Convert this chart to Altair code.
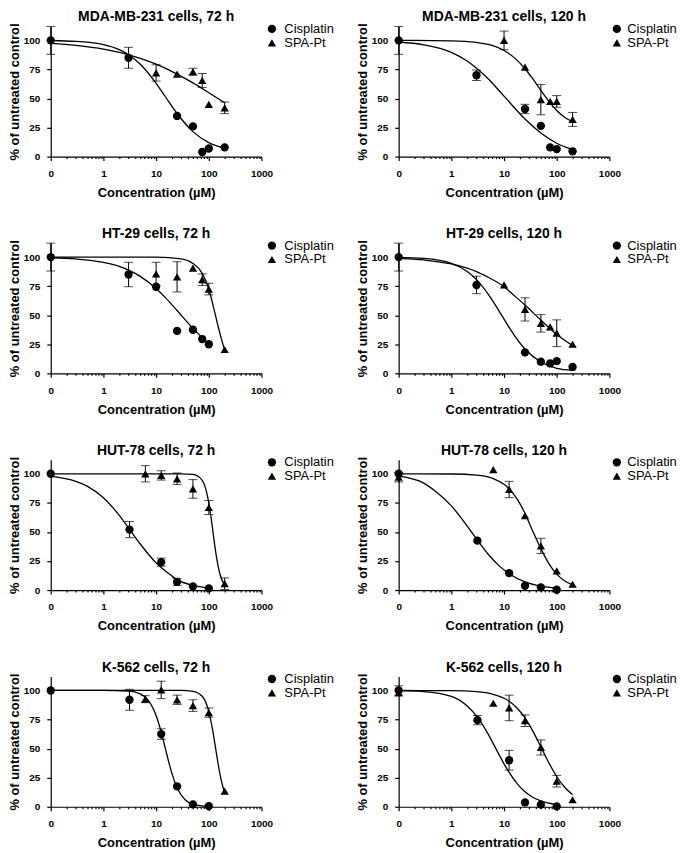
import altair as alt
import pandas as pd

FONT = "Liberation Sans"

PANEL_TITLES = [
    "MDA-MB-231 cells, 72 h", "MDA-MB-231 cells, 120 h",
    "HT-29 cells, 72 h", "HT-29 cells, 120 h",
    "HUT-78 cells, 72 h", "HUT-78 cells, 120 h",
    "K-562 cells, 72 h", "K-562 cells, 120 h",
]
DRUGS = ["Cisplatin", "SPA-Pt"]
SHAPES = ["circle", "triangle-up"]
X_MAJOR = [0.1, 1, 10, 100, 1000]
X_MINOR = [0.2, 0.3, 0.4, 0.5, 0.6, 0.7, 0.8, 0.9,
           2, 3, 4, 5, 6, 7, 8, 9,
           20, 30, 40, 50, 60, 70, 80, 90,
           200, 300, 400, 500, 600, 700, 800, 900]
Y_TICKS = [0, 25, 50, 75, 100]

# ---- measured points (x = concentration in uM, y = % of control, err = SD) ----
MDA72 = {
    "cis": {"x": [0, 3, 25, 50, 75, 100, 200], "y": [100, 85, 35, 26, 4, 7, 8], "err": [12, 9, 0, 0, 0, 0, 0]},
    "spa": {"x": [10, 25, 50, 75, 100, 200], "y": [72, 71, 73, 65.5, 45, 42], "err": [7, 0, 3, 6, 0, 5]},
    "cis_fit": {"x": [0.1, 0.3, 1, 2, 3, 5, 10, 15, 25, 50, 100, 200],
                "y": [99.9, 99.1, 96.4, 92.1, 87.7, 79.5, 63.1, 51.5, 37.1, 21.5, 12, 7.1]},
    "spa_fit": {"x": [0.1, 0.3, 1, 2, 3, 5, 10, 25, 50, 100, 200],
                "y": [97.5, 95.7, 92.5, 89.6, 87.6, 84.6, 79.5, 71, 63.4, 55, 46.4]},
}
MDA120 = {
    "cis": {"x": [0, 3, 25, 50, 75, 100, 200], "y": [100, 70, 41, 26.5, 8, 6.5, 4.6], "err": [12, 4.5, 4, 0, 0, 0, 0]},
    "spa": {"x": [10, 25, 50, 75, 100, 200], "y": [100, 77, 49, 47.5, 47.5, 32], "err": [8, 0, 13, 0, 5, 6]},
    "cis_fit": {"x": [0.1, 0.3, 1, 2, 3, 5, 10, 25, 50, 100, 200],
                "y": [98.6, 96.2, 89.7, 82.2, 76, 67, 52, 32.4, 20.4, 11.5, 6]},
    "spa_fit": {"x": [0.1, 1, 3, 5, 10, 15, 25, 35, 50, 70, 100, 150, 200],
                "y": [100, 99.6, 98.2, 96.5, 91.3, 85.8, 75.6, 67, 57, 48, 39.7, 33, 30]},
}
HT72 = {
    "cis": {"x": [0, 3, 10, 25, 50, 75, 100], "y": [100, 85, 74.5, 36.5, 37.5, 29.5, 25], "err": [12, 10.5, 0, 0, 0, 0, 0]},
    "spa": {"x": [10, 25, 50, 75, 100, 200], "y": [85.5, 83, 90.5, 80.5, 72.5, 20.5], "err": [10, 13, 0, 5, 5, 0]},
    "cis_fit": {"x": [0.1, 0.3, 1, 2, 3, 5, 10, 15, 25, 50, 100],
                "y": [99.4, 98.4, 95.5, 92, 88.8, 83.4, 72.9, 65.1, 54, 38.7, 25.3]},
    "spa_fit": {"x": [0.1, 1, 10, 30, 50, 75, 100, 125, 150, 175, 200],
                "y": [100, 100, 99.9, 98.5, 94.5, 86, 72.5, 55.5, 40.5, 29, 20]},
}
HT120 = {
    "cis": {"x": [0, 3, 25, 50, 75, 100, 200], "y": [100, 76, 18, 10, 8.5, 10.5, 5.5], "err": [12, 7.5, 0, 0, 0, 0, 0]},
    "spa": {"x": [10, 25, 50, 75, 100, 200], "y": [76, 55, 43, 40, 34.5, 25], "err": [0, 10, 7.5, 0, 11.5, 0]},
    "cis_fit": {"x": [0.1, 0.3, 1, 2, 3, 5, 10, 15, 25, 50, 100, 200],
                "y": [99.7, 98.8, 94.6, 87.6, 80.6, 68.2, 46.6, 34, 20.9, 9.7, 4.2, 2.5]},
    "spa_fit": {"x": [0.1, 0.3, 1, 3, 5, 10, 15, 25, 50, 100, 200],
                "y": [98.9, 97.5, 94.1, 87.5, 82.6, 74.5, 67.6, 58.7, 45.8, 33.5, 24]},
}
HUT72 = {
    "cis": {"x": [0, 3.125, 12.5, 25, 50, 100], "y": [100, 52, 24, 7, 3.2, 1.4], "err": [0, 7, 3.5, 3, 0, 0]},
    "spa": {"x": [6.25, 12.5, 25, 50, 100, 200], "y": [100, 98.6, 95.7, 87, 71, 5.5], "err": [7, 4, 5, 8, 6, 5]},
    "cis_fit": {"x": [0.1, 0.3, 0.5, 1, 2, 3, 5, 10, 12.5, 20, 25, 50, 100],
                "y": [98, 93.5, 89.2, 79.4, 64.2, 53.4, 39.6, 23.4, 19.3, 12, 9, 4, 1.8]},
    "spa_fit": {"x": [0.1, 1, 10, 30, 50, 75, 90, 100, 110, 120, 130, 140, 160, 180, 200],
                "y": [100, 100, 100, 100, 99.5, 94.4, 84.9, 74.9, 62.8, 50, 38.2, 28.4, 15.1, 8.1, 4.5]},
}
HUT120 = {
    "cis": {"x": [0, 3.125, 12.5, 25, 50, 100], "y": [100, 42.5, 14.5, 3.7, 2.3, 0.3], "err": [0, 0, 0, 0, 0, 0]},
    "spa": {"x": [0, 6.25, 12.5, 25, 50, 100, 200], "y": [97, 103.5, 86.5, 64, 38, 16.5, 5], "err": [4, 0, 7, 0, 6.5, 0, 0]},
    "cis_fit": {"x": [0.1, 0.3, 0.5, 1, 2, 3.125, 5, 8, 12.5, 25, 50, 100],
                "y": [98, 92, 84.9, 72.4, 55, 42.8, 30.8, 21, 14, 7, 3.4, 1.6]},
    "spa_fit": {"x": [0.1, 1, 3, 6.25, 10, 12.5, 18, 25, 35, 50, 70, 100, 140, 200],
                "y": [100, 99.8, 98.9, 95.9, 90.9, 87, 77.7, 65.9, 50.7, 35.6, 23.2, 13.7, 8, 4.4]},
}
K72 = {
    "cis": {"x": [0, 3.125, 12.5, 25, 50, 100], "y": [100, 92, 62.5, 17.5, 2, 0.5], "err": [0, 9, 4.5, 0, 0, 0]},
    "spa": {"x": [6.25, 12.5, 25, 50, 100, 200], "y": [92.5, 100.5, 92, 87, 81, 13.5], "err": [3, 7.5, 4, 5, 4, 0]},
    "cis_fit": {"x": [0.1, 1, 3, 5, 7, 10, 12.5, 15, 18, 20, 25, 35, 50, 100],
                "y": [100, 100, 99.4, 97.1, 92, 78.5, 64.2, 50, 35.8, 28.5, 16.3, 6.2, 2.1, 0.2]},
    "spa_fit": {"x": [0.1, 1, 10, 30, 50, 75, 100, 120, 135, 150, 170, 185, 200],
                "y": [100, 100, 100, 100, 99.3, 95, 81.8, 64.3, 50, 37.2, 24, 17.2, 12.3]},
}
K120 = {
    "cis": {"x": [0, 3.125, 12.5, 25, 50, 100], "y": [100, 74.5, 40, 3.7, 1.8, 0.3], "err": [4, 4, 8.5, 0, 0, 0]},
    "spa": {"x": [0, 6.25, 12.5, 25, 50, 100, 200], "y": [98, 89, 85, 74, 51, 22, 6], "err": [0, 0, 11, 5, 6.5, 5, 0]},
    "cis_fit": {"x": [0.1, 0.3, 1, 2, 3.125, 5, 7, 10, 12.5, 18, 25, 35, 50, 100],
                "y": [99.8, 99.1, 94.9, 86.7, 77, 62.4, 50, 36.9, 29.5, 19.5, 12.9, 8.2, 5, 1.8]},
    "spa_fit": {"x": [0.1, 1, 3, 6.25, 10, 12.5, 18, 25, 35, 52, 70, 100, 140, 200],
                "y": [100, 99.8, 99, 96.7, 93.3, 90.7, 84.5, 76.4, 65.3, 50, 38.3, 26, 17, 10.4]},
}
PANELS = [MDA72, MDA120, HT72, HT120, HUT72, HUT120, K72, K120]

PLOT_W, PLOT_H = 212, 131


def make_panel(title, d, col):
    rows = []
    for key, drug in (("cis", "Cisplatin"), ("spa", "SPA-Pt")):
        s = d[key]
        for x, y, e in zip(s["x"], s["y"], s["err"]):
            rows.append({"conc": x, "pct": y, "err": e, "drug": drug})
    pts = pd.DataFrame(rows)
    frows = []
    for key, drug in (("cis_fit", "Cisplatin"), ("spa_fit", "SPA-Pt")):
        s = d[key]
        for x, y in zip(s["x"], s["y"]):
            frows.append({"conc": x, "pct": y, "drug": drug})
    fit = pd.DataFrame(frows)

    xs = alt.Scale(type="log", domain=[0.1, 1000], nice=False)
    ys = alt.Scale(domain=[0, 112], nice=False)
    x_main = alt.Axis(values=X_MAJOR, orient="bottom",
                      labelExpr="datum.value < 0.5 ? '0' : format(datum.value, 'd')",
                      title="Concentration (\u00b5M)", tickSize=4, labelPadding=8,
                      titlePadding=8, labelFlush=False, labelOverlap=False)
    x_minor = alt.Axis(values=X_MINOR, orient="bottom", labels=False, title=None,
                       domain=False, tickSize=2)
    y_ax = alt.Axis(values=Y_TICKS, title="% of untreated control", tickSize=4,
                    labelPadding=7, titlePadding=2, labelFlush=False)

    lines = alt.Chart(fit).mark_line(color="black", strokeWidth=1.3, interpolate="monotone").encode(
        x=alt.X("conc:Q", scale=xs, axis=x_main),
        y=alt.Y("pct:Q", scale=ys, axis=y_ax),
        detail="drug:N",
    )
    base = alt.Chart(pts).transform_calculate(
        xp="max(datum.conc, 0.1)",
        lo="datum.pct - datum.err",
        hi="datum.pct + datum.err",
    )
    eb = base.transform_filter("datum.err > 0")
    rules = eb.mark_rule(color="black", strokeWidth=1).encode(
        x=alt.X("xp:Q", scale=xs, axis=None),
        y=alt.Y("lo:Q", scale=ys, axis=y_ax),
        y2="hi:Q",
    )
    cap_lo = eb.mark_tick(color="black", orient="horizontal", size=9, thickness=1).encode(
        x=alt.X("xp:Q", scale=xs, axis=None),
        y=alt.Y("lo:Q", scale=ys, axis=y_ax),
    )
    cap_hi = eb.mark_tick(color="black", orient="horizontal", size=9, thickness=1).encode(
        x=alt.X("xp:Q", scale=xs, axis=None),
        y=alt.Y("hi:Q", scale=ys, axis=y_ax),
    )
    lx = 216 if col == 0 else 213
    loff = 6 if col == 0 else 4
    points = base.mark_point(filled=True, size=70, opacity=1, color="black").encode(
        x=alt.X("xp:Q", scale=xs, axis=x_minor),
        y=alt.Y("pct:Q", scale=ys, axis=y_ax),
        shape=alt.Shape("drug:N", scale=alt.Scale(domain=DRUGS, range=SHAPES),
                        legend=alt.Legend(title=None, orient="none", legendX=lx, legendY=-4,
                                          labelFont=FONT, labelFontSize=13, labelColor="black",
                                          labelFontWeight="normal",
                                          symbolSize=70, symbolFillColor="black",
                                          symbolStrokeColor="black", symbolStrokeWidth=0,
                                          labelOffset=loff, rowPadding=0, padding=0)),
    )
    return alt.layer(lines, rules, cap_lo, cap_hi, points).resolve_axis(x="independent").properties(
        width=PLOT_W, height=PLOT_H,
        title=alt.TitleParams(title, font=FONT, fontSize=14, fontWeight="bold", color="black",
                              offset=-2, anchor="middle", frame="group"),
    )


panels = [make_panel(t, d, i % 2) for i, (t, d) in enumerate(zip(PANEL_TITLES, PANELS))]

chart = alt.concat(*panels, columns=2, spacing={"row": 28, "column": 22}).resolve_scale(
    shape="independent").resolve_legend(shape="independent").properties(
    padding={"left": 0, "top": 0, "right": 0, "bottom": 0}
).configure(font=FONT).configure_axis(
    domainColor="black", tickColor="black", labelColor="black", titleColor="black",
    labelFont=FONT, titleFont=FONT, labelFontWeight="bold", titleFontWeight="bold",
    labelFontSize=10, titleFontSize=13, grid=False, domainWidth=1.2, tickWidth=1.2,
).configure_view(stroke=None)

chart.save("out.html", embed_options={"renderer": "svg", "actions": False})
